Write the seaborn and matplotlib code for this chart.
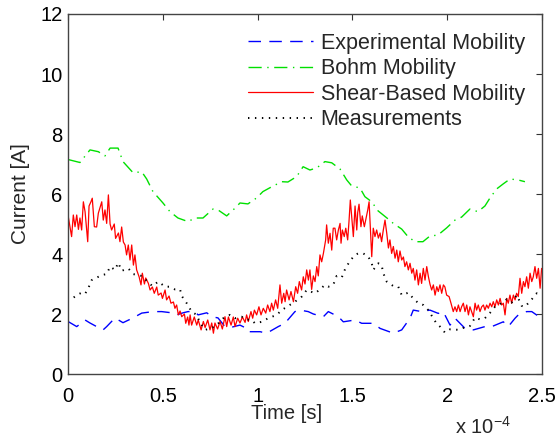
import seaborn as sns
import matplotlib
matplotlib.use("Agg")
import matplotlib.pyplot as plt

# time in units of 1e-4 s, current in A
exp_t = [0.0, 0.011, 0.046, 0.090, 0.116, 0.151, 0.185, 0.204, 0.248, 0.290, 0.343, 0.389,
         0.448, 0.494, 0.547, 0.573, 0.607, 0.633, 0.670, 0.686, 0.732, 0.758, 0.791, 0.828,
         0.863, 0.907, 0.942, 0.949, 1.013, 1.048, 1.109, 1.144, 1.197, 1.224, 1.267, 1.294,
         1.347, 1.373, 1.426, 1.452, 1.514, 1.549, 1.610, 1.646, 1.716, 1.760, 1.804, 1.821,
         1.865, 1.909, 1.953, 1.979, 2.015, 2.041, 2.094, 2.138, 2.199, 2.235, 2.296, 2.322,
         2.358, 2.375, 2.419, 2.446, 2.489]
exp_i = [1.75, 1.71, 1.58, 1.80, 1.70, 1.58, 1.47, 1.58, 1.87, 1.71, 1.87, 2.03,
         2.08, 2.08, 2.04, 1.97, 2.04, 2.08, 2.08, 1.97, 2.04, 1.91, 1.87, 1.58,
         1.56, 1.63, 1.52, 1.41, 1.41, 1.36, 1.58, 1.69, 2.08, 2.13, 2.08, 2.00,
         1.91, 2.08, 1.91, 1.74, 1.80, 1.69, 1.69, 1.52, 1.36, 1.47, 1.86, 2.13,
         2.08, 2.13, 2.02, 2.08, 1.63, 1.86, 1.52, 1.47, 1.58, 1.58, 1.74, 1.58,
         1.86, 1.97, 2.08, 2.08, 1.89]

bohm_t = [0.000, 0.063, 0.116, 0.160, 0.195, 0.222, 0.264, 0.290, 0.343, 0.389, 0.415, 0.448,
          0.501, 0.538, 0.580, 0.633, 0.670, 0.712, 0.765, 0.791, 0.837, 0.881, 0.907, 0.949,
          0.995, 1.028, 1.074, 1.127, 1.160, 1.206, 1.240, 1.276, 1.312, 1.355, 1.391, 1.435,
          1.470, 1.496, 1.540, 1.566, 1.602, 1.635, 1.688, 1.714, 1.760, 1.793, 1.830, 1.872,
          1.909, 1.951, 1.997, 2.041, 2.076, 2.120, 2.162, 2.199, 2.226, 2.261, 2.294, 2.331,
          2.373, 2.410]
bohm_i = [7.15, 7.05, 7.47, 7.41, 7.27, 7.53, 7.53, 7.08, 6.71, 6.74, 6.50, 6.08,
          5.70, 5.41, 5.20, 5.08, 5.20, 5.20, 5.50, 5.47, 5.27, 5.53, 5.70, 5.67,
          5.87, 6.08, 6.24, 6.41, 6.40, 6.58, 6.91, 6.80, 6.87, 7.08, 7.04, 6.83,
          6.47, 6.27, 6.20, 5.91, 5.74, 5.44, 5.17, 5.03, 4.83, 4.58, 4.41, 4.41,
          4.60, 4.63, 4.87, 5.13, 5.23, 5.50, 5.41, 5.60, 5.87, 6.17, 6.33, 6.50,
          6.47, 6.41]

shear_t = [0.000, 0.019, 0.028, 0.037, 0.046, 0.055, 0.063, 0.072, 0.081, 0.090, 0.104, 0.111,
           0.121, 0.128, 0.139, 0.151, 0.160, 0.169, 0.178, 0.186, 0.195, 0.204, 0.213, 0.222,
           0.230, 0.244, 0.251, 0.266, 0.274, 0.283, 0.292, 0.301, 0.309, 0.318, 0.327, 0.336,
           0.345, 0.353, 0.362, 0.375, 0.385, 0.392, 0.403, 0.410, 0.424, 0.433, 0.445, 0.455,
           0.468, 0.476, 0.491, 0.498, 0.512, 0.520, 0.533, 0.543, 0.556, 0.564, 0.573, 0.582,
           0.591, 0.600, 0.614, 0.621, 0.631, 0.638,
           0.644, 0.652, 0.666, 0.679, 0.687, 0.702, 0.714, 0.723, 0.737, 0.749, 0.758, 0.767,
           0.775, 0.789, 0.802, 0.814, 0.828, 0.837, 0.846, 0.860, 0.872, 0.881, 0.895, 0.907,
           0.920, 0.934, 0.942, 0.951, 0.965, 0.974, 0.983, 0.995, 1.007, 1.018, 1.030, 1.043,
           1.053, 1.065, 1.074, 1.083, 1.095, 1.106, 1.118, 1.127, 1.138, 1.145, 1.153, 1.166,
           1.176, 1.189, 1.201, 1.211, 1.220, 1.232, 1.241, 1.250,
           1.259, 1.268, 1.276, 1.285, 1.294, 1.303, 1.312, 1.320, 1.329, 1.338, 1.347, 1.359,
           1.364, 1.373, 1.382, 1.391, 1.399, 1.408, 1.417, 1.426, 1.435, 1.440, 1.447, 1.457,
           1.465, 1.475, 1.482, 1.489, 1.496, 1.505, 1.514, 1.523, 1.528, 1.535, 1.545, 1.552,
           1.563, 1.570, 1.581, 1.588, 1.595, 1.602, 1.610, 1.619, 1.628, 1.637, 1.646, 1.654,
           1.663, 1.672, 1.681, 1.690, 1.698, 1.707, 1.716, 1.725, 1.734, 1.742, 1.751, 1.760,
           1.769, 1.777, 1.786, 1.795, 1.804, 1.813, 1.821, 1.830, 1.839, 1.848, 1.857, 1.865,
           1.874, 1.883,
           1.892, 1.901, 1.909, 1.918, 1.927, 1.936, 1.945, 1.953, 1.962, 1.971, 1.980, 1.988,
           1.997, 2.010, 2.020, 2.032, 2.041, 2.050, 2.059, 2.068, 2.076, 2.085, 2.094, 2.103,
           2.112, 2.120, 2.129, 2.138, 2.147, 2.155, 2.164, 2.173, 2.182, 2.191, 2.199, 2.208,
           2.217, 2.226, 2.235, 2.243, 2.252, 2.261, 2.270, 2.279, 2.287, 2.296, 2.305, 2.314,
           2.322, 2.331, 2.340, 2.349, 2.358, 2.366, 2.375, 2.384, 2.393, 2.402, 2.410, 2.419,
           2.428, 2.437, 2.446, 2.454, 2.463, 2.472, 2.481, 2.490, 2.498]
shear_i = [5.30, 4.58, 5.30, 4.91, 5.30, 4.82, 5.20, 4.80, 5.74, 5.41, 4.41, 5.60,
           5.74, 5.86, 4.91, 4.90, 5.36, 5.55, 5.74, 5.13, 5.47, 5.02, 5.97, 5.00,
           4.80, 5.00, 4.52, 4.70, 4.41, 4.90, 4.40, 4.30, 3.97, 4.30, 3.80, 4.30,
           3.63, 3.97, 3.47, 3.24, 2.97, 3.36, 3.00, 3.20, 3.02, 2.80, 2.90, 2.69,
           2.90, 2.63, 2.70, 2.52, 2.80, 2.47, 2.60, 2.36, 2.40, 2.19, 2.30, 1.97,
           2.10, 1.91, 2.00, 1.69, 1.90, 1.63,
           1.97, 1.63, 1.90, 1.63, 1.80, 1.47, 1.75, 1.55, 1.80, 1.47, 1.70, 1.36,
           1.70, 1.50, 1.75, 1.50, 1.91, 1.58, 1.90, 1.63, 1.90, 1.58, 1.86, 1.70,
           1.90, 1.72, 1.97, 1.75, 2.08, 1.86, 2.13, 1.97, 2.24, 1.97, 2.19, 2.03,
           2.30, 2.08, 2.36, 2.13, 2.47, 2.19, 2.97, 2.36, 2.69, 2.41, 2.80, 2.47,
           2.75, 2.41, 2.91, 2.69, 3.08, 2.80, 3.24, 3.00,
           3.47, 3.13, 3.47, 2.82, 3.27, 3.08, 3.58, 3.27, 3.97, 3.74, 4.02, 4.47,
           4.97, 4.36, 4.69, 4.13, 4.86, 4.86, 4.47, 4.80, 5.02, 4.36, 4.80, 4.58,
           4.86, 4.47, 5.08, 5.80, 5.27, 4.58, 5.60, 4.80, 5.38, 5.66, 4.91, 5.27,
           4.91, 5.13, 5.47, 5.74, 4.80, 3.91, 4.86, 4.58, 4.80, 4.53, 4.70, 4.41,
           4.80, 5.13, 4.70, 4.20, 4.47, 4.02, 4.25, 3.86, 4.13, 3.74, 4.10, 3.80,
           3.90, 3.58, 3.74, 3.47, 3.69, 3.36, 3.52, 3.13, 3.47, 2.97, 3.36, 3.02,
           3.52, 3.13,
           3.58, 3.24, 3.00, 2.80, 2.97, 2.63, 2.91, 2.75, 2.97, 2.69, 2.97, 2.90,
           2.63, 2.58, 2.36, 2.08, 2.24, 2.08, 2.30, 2.08, 2.24, 2.36, 2.08, 2.30,
           1.97, 2.24, 2.08, 1.91, 2.36, 2.13, 2.30, 2.08, 2.24, 2.30, 2.13, 2.30,
           2.19, 2.36, 2.24, 2.41, 2.24, 2.47, 2.30, 2.52, 2.30, 2.36, 1.97, 2.52,
           2.36, 2.63, 2.36, 2.63, 2.47, 2.69, 2.58, 3.19, 2.69, 3.08, 2.91, 3.24,
           2.86, 3.36, 3.08, 3.24, 3.58, 3.19, 3.52, 2.86, 3.52]

meas_t = [0.030, 0.046, 0.072, 0.090, 0.107, 0.125, 0.160, 0.178, 0.204, 0.222, 0.248, 0.265,
          0.283, 0.318, 0.344, 0.389, 0.415, 0.445, 0.476, 0.512, 0.538, 0.564, 0.591, 0.600,
          0.626, 0.652, 0.679, 0.696, 0.723, 0.749, 0.775, 0.793, 0.819, 0.854, 0.881, 0.916,
          0.934, 0.969, 0.986, 1.022, 1.056, 1.101, 1.127, 1.162, 1.197, 1.233, 1.259, 1.303,
          1.329, 1.355, 1.373, 1.399, 1.417, 1.444, 1.461, 1.487, 1.514, 1.531, 1.557, 1.584,
          1.602, 1.610, 1.637, 1.654, 1.663, 1.681, 1.716, 1.742, 1.760, 1.795, 1.821, 1.848,
          1.874, 1.900, 1.945, 1.962, 1.988, 2.015, 2.032, 2.059, 2.094, 2.120, 2.147, 2.173,
          2.199, 2.226, 2.252, 2.278, 2.314, 2.340, 2.367, 2.393, 2.410, 2.446, 2.472, 2.489]
meas_i = [2.55, 2.63, 2.71, 2.67, 2.86, 3.13, 3.24, 3.30, 3.33, 3.58, 3.47, 3.71,
          3.44, 3.52, 3.33, 3.27, 3.11, 2.93, 3.08, 2.91, 2.91, 2.82, 2.82, 2.60,
          2.36, 2.08, 1.97, 1.71, 1.47, 1.52, 1.58, 1.69, 1.86, 1.97, 1.86, 1.91,
          1.82, 1.80, 1.69, 1.74, 1.86, 1.97, 2.13, 2.27, 2.41, 2.58, 2.80, 2.69,
          2.82, 2.97, 2.91, 2.97, 3.27, 3.22, 3.49, 3.77, 3.97, 4.02, 4.02, 3.91,
          3.69, 3.47, 3.69, 3.63, 3.36, 3.08, 2.93, 2.91, 2.63, 2.71, 2.52, 2.36,
          2.30, 2.13, 1.67, 1.58, 1.38, 1.49, 1.49, 1.47, 1.56, 1.60, 1.88, 1.82,
          1.86, 2.04, 2.24, 2.33, 2.49, 2.38, 2.63, 2.27, 2.24, 2.49, 2.69, 2.63]

x_ticks = [0, 0.5, 1, 1.5, 2, 2.5]
x_tick_labels = ["0", "0.5", "1", "1.5", "2", "2.5"]
y_ticks = [0, 2, 4, 6, 8, 10, 12]

sns.set_style("white")
plt.rcParams["font.family"] = ["Liberation Sans", "DejaVu Sans"]
plt.rcParams["mathtext.fontset"] = "custom"
plt.rcParams["mathtext.rm"] = "Liberation Sans"
plt.rcParams["lines.scale_dashes"] = False

fig = plt.figure(figsize=(5.59, 4.40), dpi=100)
ax = fig.add_axes([68 / 559, 66 / 440, 474 / 559, 360 / 440])

series = [
    (exp_t, exp_i, "Experimental Mobility", "#0000ff", (9, 6), 1.0),
    (bohm_t, bohm_i, "Bohm Mobility", "#00e000", (9.5, 4, 1, 4), 1.0),
    (shear_t, shear_i, "Shear-Based Mobility", "#ff0000", None, 0.9),
    (meas_t, meas_i, "Measurements", "black", (1, 4), 1.4),
]
for t, i, name, col, dash, lw in series:
    sns.lineplot(x=t, y=i, ax=ax, color=col, label=name, sort=False,
                 estimator=None, linewidth=lw)
    line = ax.get_lines()[-1]
    if dash is not None:
        line.set_dashes(dash)

ax.set_xlim(0, 2.5)
ax.set_ylim(0, 12)
ax.set_xticks(x_ticks)
ax.set_xticklabels(x_tick_labels)
ax.set_yticks(y_ticks)
ax.tick_params(direction="in", top=True, right=True, length=4, width=0.8,
               colors="#333333", labelcolor="black", labelsize=14.5)
ax.tick_params(axis="x", pad=9)
ax.tick_params(axis="y", pad=4)
for sp in ax.spines.values():
    sp.set_color("#444444")
    sp.set_linewidth(1.0)

ax.set_xlabel("Time [s]", fontsize=14.5, va="center")
ax.set_ylabel("Current [A]", fontsize=15)
ax.xaxis.set_label_coords(0.462, -0.11)
ax.yaxis.set_label_coords(-0.08, 0.5)
ax.text(0.935, -0.148, r"x 10$^{-4}$", transform=ax.transAxes, ha="right",
        va="center", fontsize=14.5)

leg = ax.legend(loc="upper left", bbox_to_anchor=(0.38, 0.948), frameon=False,
                fontsize=15.5, handlelength=3.0, handletextpad=0.37,
                labelspacing=0.21, borderpad=0, borderaxespad=0)

fig.savefig("out.png", dpi=100)
